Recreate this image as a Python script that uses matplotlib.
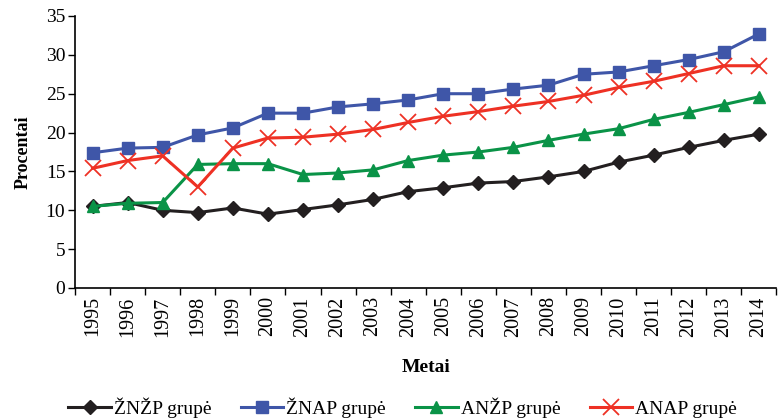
import numpy as np
import matplotlib
matplotlib.use("Agg")
import matplotlib.pyplot as plt

years = [str(y) for y in range(1995, 2015)]

znzp = [10.5, 11.0, 10.0, 9.7, 10.3, 9.5, 10.1, 10.7, 11.4, 12.4,
        12.9, 13.5, 13.7, 14.3, 15.0, 16.2, 17.1, 18.1, 19.0, 19.8]
znap = [17.4, 18.0, 18.1, 19.7, 20.6, 22.5, 22.5, 23.3, 23.7, 24.2,
        25.0, 25.0, 25.6, 26.1, 27.5, 27.8, 28.6, 29.4, 30.4, 32.7]
anzp = [10.5, 10.9, 11.0, 15.9, 16.0, 16.0, 14.6, 14.8, 15.2, 16.4,
        17.1, 17.5, 18.1, 19.0, 19.8, 20.5, 21.7, 22.6, 23.6, 24.6]
anap = [15.4, 16.4, 17.0, 13.0, 18.0, 19.3, 19.4, 19.8, 20.4, 21.3,
        22.1, 22.7, 23.4, 24.0, 24.8, 25.8, 26.6, 27.6, 28.6, 28.6]

plt.rcParams['font.family'] = ['Liberation Serif', 'DejaVu Serif']

fig = plt.figure(figsize=(7.78, 4.18), dpi=100)
ax = fig.add_axes([75 / 778, 1 - 288 / 418, 1 - 75 / 778 - 0.002, (288 - 16) / 418])

x = np.arange(len(years))
ax.plot(x, znzp, color='#231f20', lw=2.2, marker='D', ms=7, label='ŽNŽP grupė')
ax.plot(x, znap, color='#3f56a8', lw=2.2, marker='s', ms=8, label='ŽNAP grupė')
ax.plot(x, anzp, color='#0a9347', lw=2.2, marker='^', ms=9, label='ANŽP grupė')
ax.plot(x, anap, color='#ee3124', lw=2.2, marker='x', ms=11, mew=1.3, label='ANAP grupė')

ax.set_xlim(-0.5, len(years) - 0.5)
ax.set_ylim(0, 35)
ax.set_yticks(range(0, 36, 5))
ax.set_xticks(x)
ax.set_xticklabels(years, rotation=90, fontsize=14.5)
ax.set_xticks(np.arange(-0.5, len(years)), minor=True)
ax.tick_params(axis='x', which='major', length=0, pad=6)
ax.tick_params(axis='x', which='minor', length=5, width=1, direction='out')
ax.tick_params(axis='y', labelsize=14, length=5, width=1, pad=2)

for s in ['top', 'right']:
    ax.spines[s].set_visible(False)
for s in ['left', 'bottom']:
    ax.spines[s].set_linewidth(1.2)

ax.set_ylabel('Procentai', fontsize=13, fontweight='bold', labelpad=10)
ax.set_xlabel('Metai', fontsize=14, fontweight='bold', labelpad=16)

ax.legend(loc='center', bbox_to_anchor=(0.467, -0.44), ncol=4, frameon=False,
          fontsize=14, handlelength=2.2, columnspacing=1.5, handletextpad=0.15)

fig.savefig('out.png', dpi=100)
